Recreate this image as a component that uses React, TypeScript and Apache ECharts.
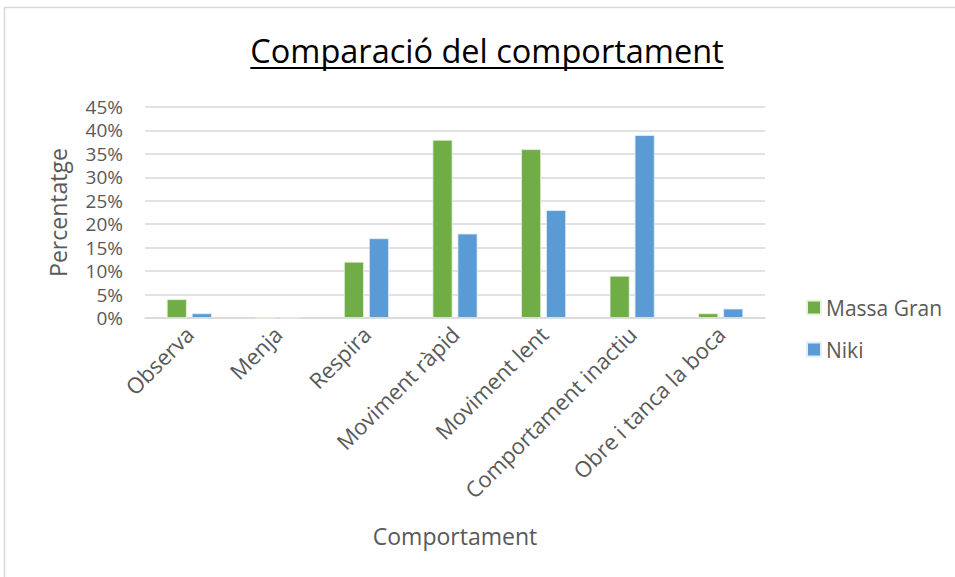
import React, { useEffect, useRef } from "react";
import * as echarts from "echarts";

const categories = [
  "Observa",
  "Menja",
  "Respira",
  "Moviment ràpid",
  "Moviment lent",
  "Comportament inactiu",
  "Obre i tanca la boca",
];
const massaGran = [4, 0, 12, 38, 36, 9, 1];
const niki = [1, 0, 17, 18, 23, 39, 2];
const seriesNames = ["Massa Gran", "Niki"];
const titleText = "Comparació del comportament";
const xAxisName = "Comportament";
const yAxisName = "Percentatge";

const W = 955;
const H = 577;
const TITLE_FONT = "'Open Sans', 'Noto Sans', sans-serif";
const LABEL_FONT = "'Open Sans', 'Noto Sans', sans-serif";

function measure(text: string, font: string): number {
  const c = document.createElement("canvas").getContext("2d");
  if (!c) return text.length * 16;
  c.font = font;
  return c.measureText(text).width;
}

export default function App() {
  const ref = useRef<HTMLDivElement>(null);

  useEffect(() => {
    if (!ref.current) return;
    const chart = echarts.init(ref.current, undefined, { renderer: "svg" });
    const titleSize = 32.5;
    const titleW = measure(titleText, `${titleSize}px ${TITLE_FONT}`);
    const titleCx = 487;

    chart.setOption({
      animation: false,
      backgroundColor: "#ffffff",
      color: ["#70AD47", "#5B9BD5"],
      graphic: [
        {
          type: "rect",
          shape: { x: 4.5, y: 7.5, width: 1200, height: 1200 },
          style: { fill: "none", stroke: "#d9d9d9", lineWidth: 1.5 },
          silent: true,
        },
        {
          type: "text",
          x: titleCx,
          y: 50,
          style: {
            text: titleText,
            fill: "#000000",
            font: `${titleSize}px ${TITLE_FONT}`,
            textAlign: "center",
            textVerticalAlign: "middle",
          },
        },
        {
          type: "line",
          shape: {
            x1: titleCx - titleW / 2,
            y1: 68,
            x2: titleCx + titleW / 2,
            y2: 68,
          },
          style: { stroke: "#000000", lineWidth: 2 },
        },
      ],
      legend: {
        orient: "vertical",
        left: 801,
        top: 292,
        itemWidth: 14,
        itemHeight: 14,
        itemGap: 21,
        icon: "rect",
        data: seriesNames,
        textStyle: { color: "#595959", fontSize: 21, fontFamily: LABEL_FONT },
      },
      grid: { left: 145, right: 190, top: 107, bottom: 259 },
      xAxis: {
        type: "category",
        data: categories,
        name: xAxisName,
        nameLocation: "middle",
        nameGap: 206,
        nameTextStyle: { color: "#595959", fontSize: 23, fontFamily: LABEL_FONT },
        axisLine: { lineStyle: { color: "#d9d9d9", width: 1.5 } },
        axisTick: { show: false },
        axisLabel: {
          rotate: 45,
          margin: 12,
          interval: 0,
          color: "#595959",
          fontSize: 22,
          fontFamily: LABEL_FONT,
        },
      },
      yAxis: {
        type: "value",
        min: 0,
        max: 45,
        interval: 5,
        name: yAxisName,
        nameLocation: "middle",
        nameGap: 76,
        nameTextStyle: { color: "#595959", fontSize: 23, fontFamily: LABEL_FONT },
        axisLine: { show: false },
        axisTick: { show: false },
        axisLabel: {
          formatter: "{value}%",
          color: "#595959",
          fontSize: 19,
          lineHeight: 21,
          margin: 22,
          fontFamily: LABEL_FONT,
        },
        splitLine: { lineStyle: { color: "#d9d9d9", width: 1.5 } },
      },
      series: [
        {
          name: seriesNames[0],
          type: "bar",
          data: massaGran,
          barWidth: 20,
          barGap: "25%",
          itemStyle: { borderColor: "#e8f3e0", borderWidth: 0.8 },
        },
        {
          name: seriesNames[1],
          type: "bar",
          data: niki,
          barWidth: 20,
          barGap: "25%",
          itemStyle: { borderColor: "#e3eef8", borderWidth: 0.8 },
        },
      ],
    });
    return () => chart.dispose();
  }, []);

  return (
    <div
      ref={ref}
      style={{ position: "fixed", left: 0, top: 0, width: W, height: H }}
    />
  );
}
